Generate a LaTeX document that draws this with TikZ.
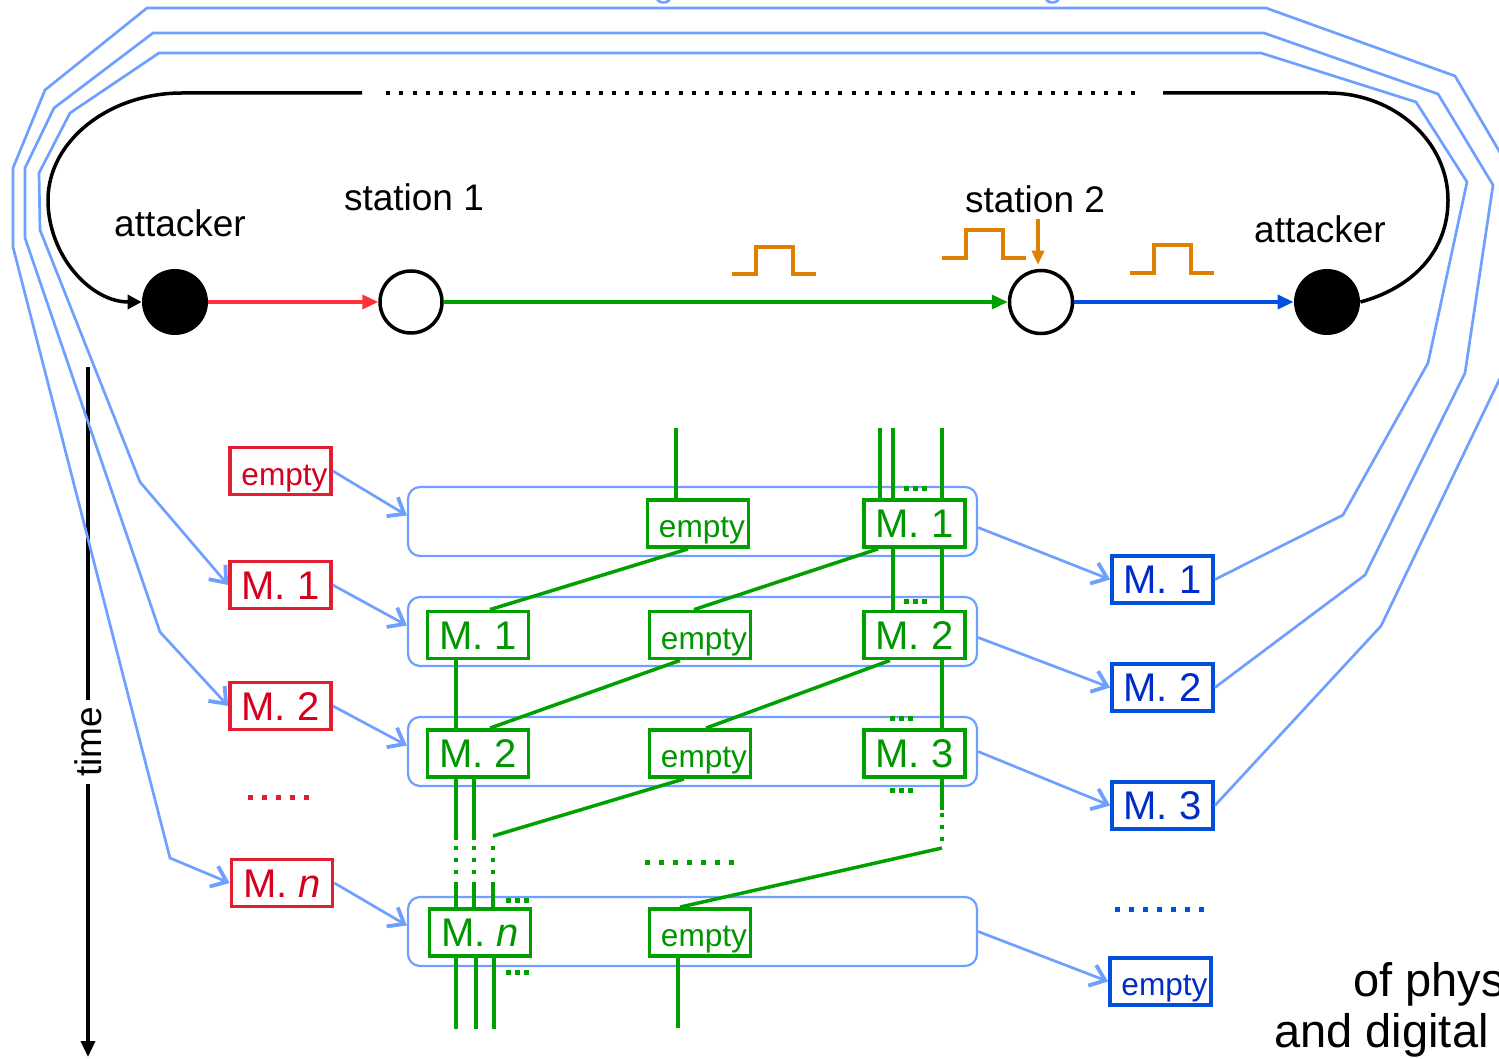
\documentclass[tikz,border=0pt]{standalone}
\usepackage{fontspec}
\setmainfont{Liberation Sans}
\usetikzlibrary{arrows.meta,calc}
\definecolor{lblue}{RGB}{111,160,255}
\definecolor{boxred}{RGB}{226,30,50}
\definecolor{txtred}{RGB}{212,0,32}
\definecolor{arrred}{RGB}{255,48,60}
\definecolor{grn}{RGB}{0,160,0}
\definecolor{grntxt}{RGB}{0,150,0}
\definecolor{bboxc}{RGB}{0,80,220}
\definecolor{btxt}{RGB}{0,45,200}
\definecolor{barr}{RGB}{0,80,225}
\definecolor{orng}{RGB}{224,128,0}
\newcommand{\fsz}[1]{\fontsize{#1}{#1}\selectfont}
\newcommand{\emp}{\hspace*{4pt}empty}
\begin{document}
\begin{tikzpicture}[x=0.5pt,y=-0.5pt,
  mbox/.style={draw, line width=1.9pt, fill=white, minimum width=50.5pt, minimum height=23.5pt, inner sep=0pt, text height=14pt, text depth=0pt},
  rbox/.style={mbox, draw=boxred, text=txtred},
  gbox/.style={mbox, draw=grn, text=grntxt},
  bbox/.style={mbox, draw=bboxc, text=btxt},
  mlab/.style={font=\fsz{20}},
  elab/.style={font=\fsz{15.8}},
  rowbox/.style={draw=lblue, line width=1.1pt, rounded corners=6pt, minimum width=284.5pt, minimum height=34.5pt, inner sep=0pt},
  gline/.style={draw=grn, line width=1.75pt},
  gvdots/.style={draw=grn, line width=2pt, dash pattern=on 2pt off 4pt},
  tridots/.style={line width=2.5pt, dash pattern=on 2.5pt off 2pt},
  rowdots/.style={line width=2.5pt, dash pattern=on 2.5pt off 4.5pt},
  lbline/.style={draw=lblue, line width=1.35pt},
  lbarrow/.style={lbline, -{Straight Barb[length=7pt,width=11pt,line width=1.9pt]}},
  lab/.style={font=\fsz{18.5}, anchor=base, inner sep=0pt},
  orline/.style={draw=orng, line width=1.75pt}
]
\useasboundingbox (0,0) rectangle (1499,1059);
\clip (0,0) rectangle (1499,1059);

% clipped blue text pieces at the top
\node[lab, text=lblue] (gA) at (664,-3) {g};
\node[lab, text=lblue] (gB) at (1053,-3) {g};

% stations
\node[circle, fill=black, minimum size=33pt, inner sep=0pt] (att1) at (175,302) {};
\node[circle, draw, line width=1.75pt, fill=white, minimum size=31pt, inner sep=0pt] (st1) at (411,302) {};
\node[circle, draw, line width=1.75pt, fill=white, minimum size=31.5pt, inner sep=0pt] (st2) at (1041,302) {};
\node[circle, fill=black, minimum size=33pt, inner sep=0pt] (att2) at (1327,302) {};

\node[lab] (latt1) at (180,237) {attacker};
\node[lab] (lst1) at (414,211) {station 1};
\node[lab] (lst2) at (1035,213) {station 2};
\node[lab] (latt2) at (1320,243) {attacker};

\draw[arrred, line width=1.75pt, -{Triangle[length=8pt,width=7pt]}] (att1) -- (st1);
\draw[grn, line width=1.75pt, -{Triangle[length=8pt,width=7pt]}] (st1) -- (st2);
\draw[barr, line width=1.75pt, -{Triangle[length=8pt,width=7pt]}] (st2) -- (att2);

% loop
\coordinate (lpR) at (1328,93);
\coordinate (lpRe) at (1163,93);
\coordinate (lpLe) at (362,93);
\coordinate (lpL) at (182,93);
\coordinate (dS) at (386,93);
\coordinate (dE) at (1141,93);
\draw[line width=1.75pt] (att2.east) .. controls (1412,288) and (1448,252) .. (1448,200)
   .. controls (1448,141) and (1394,93) .. (lpR) -- (lpRe);
\draw[line width=1.75pt, -{Triangle[length=7pt,width=7pt]}] (lpLe) -- (lpL)
   .. controls (109,93) and (48,141) .. (48,200)
   .. controls (48,256) and (91,302) .. (att1.west);
\draw[line width=2pt, dash pattern=on 2pt off 4.65pt] (dS) -- (dE);

% pulses
\draw[orline] (732,274) -- (756,274) -- (756,247) -- (793,247) -- (793,274) -- (816,274);
\draw[orline] (942,258) -- (966,258) -- (966,230) -- (1003,230) -- (1003,258) -- (1026,258);
\draw[orline] (1130,273) -- (1154,273) -- (1154,245) -- (1191,245) -- (1191,273) -- (1214,273);
\coordinate (oa) at (1038,219);
\draw[orline, -{Triangle[length=7pt,width=6pt]}, shorten >=2pt] (oa) -- (oa |- st2.north);

% time axis
\coordinate (tA) at (88,367);
\coordinate (tB) at (88,1057);
\draw[line width=1.75pt, -{Triangle[length=8pt,width=7pt]}] (tA) -- (tB);
\node[rotate=90, fill=white, font=\fsz{18.5}, inner xsep=3.5pt, inner ysep=1pt] (tl) at (88,742) {time};

% rows
\node[rowbox] (row1) at (692.5,521.5) {};
\node[rowbox] (row2) at (692.5,631.5) {};
\node[rowbox] (row3) at (692.5,751.5) {};
\node[rowbox] (row4) at (692.5,931.5) {};

% red boxes
\node[rbox, elab] (rE) at (280.5,471) {\emp};
\node[rbox, mlab] (r1) at (280.5,585) {M. 1};
\node[rbox, mlab] (r2) at (280.5,706) {M. 2};
\node[rbox, mlab] (rn) at (282,883) {M. \textit{n}};
\draw[boxred, rowdots] (248,797) -- (313,797);

% blue boxes
\node[bbox, mlab] (b1) at (1162.5,579.5) {M. 1};
\node[bbox, mlab] (b2) at (1162.5,687.5) {M. 2};
\node[bbox, mlab] (b3) at (1162.5,805.5) {M. 3};
\node[bbox, elab] (bE) at (1160.5,981.5) {\emp};
\draw[bboxc, rowdots] (1115,909) -- (1204,909);

% light blue routes
\draw[lbarrow] (b1.east) -- (1343,515) -- (1428,363) -- (1467,182) -- (1416,102) -- (1261,53) -- (159,53) -- (70,113) -- (39,173) -- (40,230) -- (140,482) -- (r1.west);
\draw[lbarrow] (b2.east) -- (1365,575) -- (1465,373) -- (1493,185) -- (1438,94) -- (1264,33) -- (153,33) -- (54,108) -- (25,168) -- (25,238) -- (160,632) -- (r2.west);
\draw[lbarrow] (b3.east) -- (1381,626) -- (1503,372) -- (1525,195) -- (1455,76) -- (1266,8) -- (147,8) -- (45,90) -- (13,168) -- (13,247) -- (170,858) -- (rn.west);

\draw[lbarrow] (rE.east) -- ([yshift=3pt]row1.west);
\draw[lbarrow] (r1.east) -- ([yshift=3pt]row2.west);
\draw[lbarrow] (r2.east) -- ([yshift=3pt]row3.west);
\draw[lbarrow] (rn.east) -- ([yshift=3pt]row4.west);
\draw[lbarrow] ([yshift=-3pt]row1.east) -- (b1.west);
\draw[lbarrow] ([yshift=-3pt]row2.east) -- (b2.west);
\draw[lbarrow] (row3.east) -- (b3.west);
\draw[lbarrow] (row4.east) -- (bE.west);

% green boxes
\node[gbox, elab] (g1e) at (698,523.5) {\emp};
\node[gbox, mlab] (g1m1) at (914.5,523.5) {M. 1};
\node[gbox, mlab] (g2m1) at (478,635) {M. 1};
\node[gbox, elab] (g2e) at (700,635) {\emp};
\node[gbox, mlab] (g2m2) at (914.5,635) {M. 2};
\node[gbox, mlab] (g3m2) at (478,753.5) {M. 2};
\node[gbox, elab] (g3e) at (700,753.5) {\emp};
\node[gbox, mlab] (g3m3) at (914.5,753.5) {M. 3};
\node[gbox, mlab] (g4mn) at (480,932.5) {M. \textit{n}};
\node[gbox, elab] (g4e) at (700,932.5) {\emp};

% green lines, upper right column
\coordinate (t1) at (676,428);
\coordinate (t2) at (880,428);
\coordinate (t3) at (893,428);
\coordinate (t4) at (942,428);
\draw[gline] (t1) -- (t1 |- g1e.north);
\draw[gline] (t2) -- (t2 |- g1m1.north);
\draw[gline] (t3) -- (t3 |- g1m1.north);
\draw[gline] (t4) -- (t4 |- g1m1.north);
\draw[grn, tridots] (904,488) -- (927,488);
\draw[gline] (t3 |- g1m1.south) -- (t3 |- g2m2.north);
\draw[gline] (t4 |- g1m1.south) -- (t4 |- g2m2.north);
\draw[grn, tridots] (904,601) -- (927,601);
\draw[gline] (t4 |- g2m2.south) -- (t4 |- g3m3.north);
\draw[grn, tridots] (890,718) -- (913,718);
\draw[grn, tridots] (890,790) -- (913,790);
\coordinate (c1) at (942,810);
\coordinate (c2) at (942,848);
\draw[gline] (t4 |- g3m3.south) -- (c1);
\draw[gvdots] (942,813) -- (942,844);
\draw[gline] (c2) -- ($(g4e.north)+(-20,0)$);

% diagonals
\draw[gline] ($(g1e.south)+(-10,0)$) -- ($(g2m1.north)+(12,0)$);
\draw[gline] ($(g1m1.south)+(-36.5,0)$) -- ($(g2e.north)+(-6,0)$);
\draw[gline] ($(g2e.south)+(-20,0)$) -- ($(g3m2.north)+(12,0)$);
\draw[gline] ($(g2m2.south)+(-24.5,0)$) -- ($(g3e.north)+(6,0)$);
\coordinate (c3) at (493,836);
\draw[gline] ($(g3e.south)+(-16,0)$) -- (c3);

% left column
\coordinate (xA) at (456,0);
\coordinate (xB) at (474,0);
\draw[gline] (xA |- g2m1.south) -- (xA |- g3m2.north);
\coordinate (d1) at (456,840);
\coordinate (d2) at (474,840);
\draw[gline] (xA |- g3m2.south) -- (d1);
\draw[gline] (xB |- g3m2.south) -- (d2);
\draw[gvdots] (456,846) -- (456,878);
\draw[gvdots] (474,846) -- (474,878);
\draw[gvdots] (493,846) -- (493,878);
\coordinate (e1) at (456,882);
\coordinate (e2) at (474,882);
\coordinate (e3) at (493,882);
\draw[gline] (e1) -- (e1 |- g4mn.north);
\draw[gline] (e2) -- (e2 |- g4mn.north);
\draw[gline] (e3) -- (e3 |- g4mn.north);
\draw[grn, tridots] (506,900) -- (529,900);
\draw[grn, tridots] (506,972) -- (529,972);
\coordinate (f1) at (456,1029);
\coordinate (f2) at (476,1029);
\coordinate (f3) at (494,1029);
\coordinate (f4) at (678,1028);
\draw[gline] (f1 |- g4mn.south) -- (f1);
\draw[gline] (f2 |- g4mn.south) -- (f2);
\draw[gline] (f3 |- g4mn.south) -- (f3);
\draw[gline] (f4 |- g4e.south) -- (f4);
\draw[grn, rowdots] (645,862) -- (734,862);

% clipped caption
\node[font=\fsz{23.5}, anchor=base west, inner sep=0pt] (cap1) at (1353,996) {of phys};
\node[font=\fsz{23.5}, anchor=base west, inner sep=0pt] (cap2) at (1274,1047) {and digital};
\end{tikzpicture}
\end{document}
